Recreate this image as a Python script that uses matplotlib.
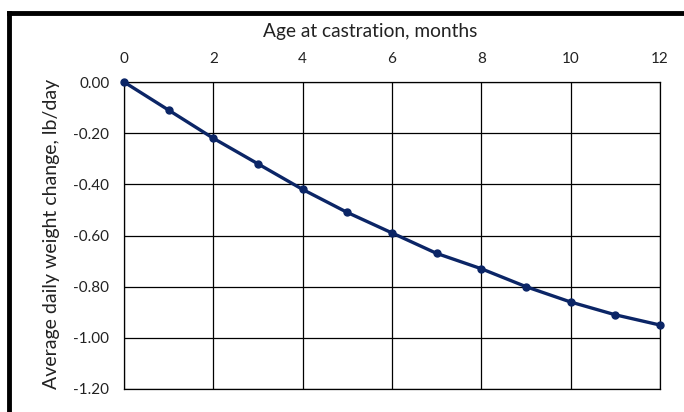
import matplotlib.pyplot as plt
from matplotlib.lines import Line2D

# age at castration (months) vs average daily weight change (lb/day)
age_months = [0, 1, 2, 3, 4, 5, 6, 7, 8, 9, 10, 11, 12]
weight_change = [0.00, -0.11, -0.22, -0.32, -0.42, -0.51, -0.59, -0.67, -0.73, -0.80, -0.86, -0.91, -0.95]
x_ticks = [0, 2, 4, 6, 8, 10, 12]
y_ticks = [0.0, -0.2, -0.4, -0.6, -0.8, -1.0, -1.2]

plt.rcParams['font.family'] = ['Lato', 'DejaVu Sans']

fig = plt.figure(figsize=(6.84, 4.12), dpi=100)
ax = fig.add_axes([124/684, 1 - 389/412, (660-124)/684, (389-82)/412])

ax.plot(age_months, weight_change, color='#0b2566', lw=2.4,
        marker='o', markersize=5, clip_on=False, zorder=3)

ax.set_xlim(0, 12)
ax.set_ylim(-1.2, 0)
ax.set_xticks(x_ticks)
ax.set_yticks(y_ticks)
ax.set_yticklabels(['%.2f' % v for v in y_ticks])
ax.xaxis.tick_top()
ax.xaxis.set_label_position('top')
ax.tick_params(axis='both', length=0, labelsize=11, colors='#222222')
ax.tick_params(axis='x', pad=11.5)
ax.tick_params(axis='y', pad=10.5)
ax.grid(True, color='black', lw=0.9)
for s in ax.spines.values():
    s.set_color('black')
    s.set_linewidth(0.9)

ax.set_xlabel('Age at castration, months', fontsize=13.8, color='#222222')
ax.set_ylabel('Average daily weight change, lb/day', fontsize=14, color='#222222')
ax.xaxis.set_label_coords(0.459, 1.163)
ax.xaxis.label.set_va('center')
ax.yaxis.set_label_coords(-0.136, 0.505)
ax.yaxis.label.set_va('center')

# thick frame lines at the top and left edge
fig.add_artist(Line2D([9/684, 1], [1 - 13/412, 1 - 13/412], color='black', lw=3.5))
fig.add_artist(Line2D([9/684, 9/684], [0, 1 - 13/412], color='black', lw=3.5))

fig.savefig('out.png', dpi=100)
